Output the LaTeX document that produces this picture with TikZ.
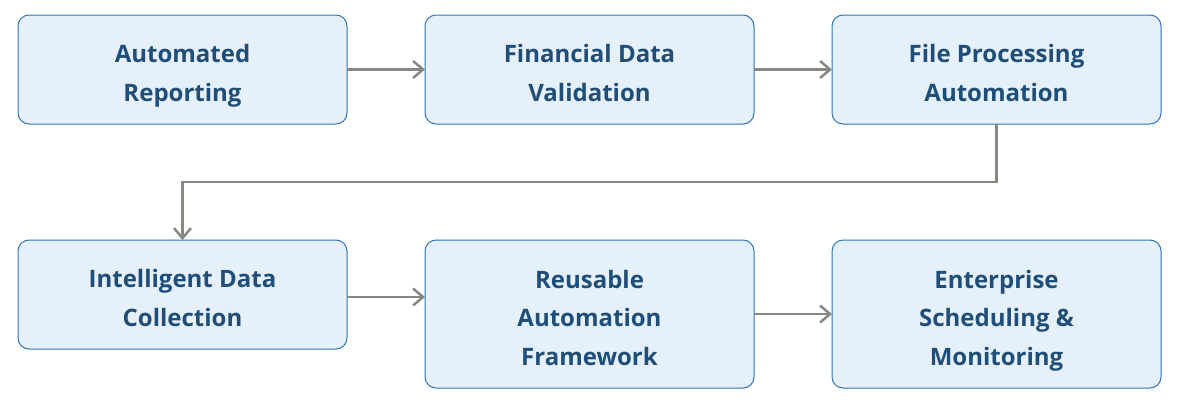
\documentclass[tikz,border=0pt]{standalone}
\usepackage{fontspec}
\setmainfont{Open Sans}
\usepackage{tikz}
\usetikzlibrary{arrows.meta,positioning}
\definecolor{boxfill}{HTML}{E6F0FA}
\definecolor{boxline}{HTML}{2E75B6}
\definecolor{boxtext}{HTML}{1F4E79}
\definecolor{flowgray}{HTML}{888883}
\newcommand{\stagestrut}{\rule{0pt}{33pt}}
\tikzstyle{stage} = [rectangle, rounded corners=11pt, draw=boxline, line width=1pt, fill=boxfill, text=boxtext, align=center, font=\bfseries\fontsize{24}{38.5}\selectfont, minimum width=329pt, minimum height=109pt, inner sep=0pt, outer sep=0pt, execute at end node={\rule[-8pt]{0pt}{8pt}}]
\tikzstyle{tallstage} = [stage, minimum height=148pt]
\tikzstyle{flow} = [draw=flowgray, line width=2.5pt, -{Straight Barb[length=10pt,width=17pt,line width=2.5pt]}]

\begin{document}
\begin{tikzpicture}
\useasboundingbox (0,0) rectangle (1191pt,-402pt);

% first row =============================
\node[stage, anchor=north west] (report) at (18pt,-15pt) {\stagestrut Automated\\Reporting};
\node[stage, right=78pt of report] (validate) {\stagestrut Financial Data\\Validation};
\node[stage, right=78pt of validate] (files) {\stagestrut File Processing\\Automation};

% second row
\node[stage, below=116pt of report] (collect) {\stagestrut Intelligent Data\\Collection};
\node[tallstage, below=116pt of validate] (framework) {\stagestrut Reusable\\Automation\\Framework};
\node[tallstage, below=116pt of files] (schedule) {\stagestrut Enterprise\\Scheduling \&\\Monitoring};

%edges
\path[flow] (report) -- (validate);
\path[flow] (validate) -- (files);
\path[flow] (files.south) -- ++(0,-58pt) -| (collect.north);
\path[flow] ([yshift=-2.5pt]collect.east) -- ([yshift=-2.5pt]collect.east -| framework.west);
\path[flow] (framework) -- (schedule);

\end{tikzpicture}
\end{document}
